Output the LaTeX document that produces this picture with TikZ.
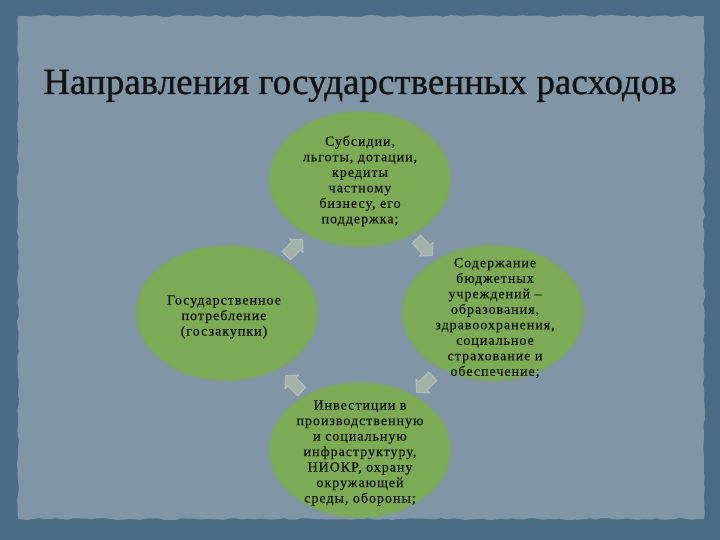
\documentclass[tikz,border=0pt]{standalone}
\usepackage{fontspec}
\setmainfont{Liberation Serif}
\usetikzlibrary{decorations.pathmorphing,shapes.geometric}
\definecolor{outerbg}{RGB}{74,109,133}
\definecolor{innerbg}{RGB}{128,149,166}
\definecolor{leaf}{RGB}{124,170,85}
\definecolor{pale}{RGB}{196,210,170}
\newfontfamily\bodyfont[LetterSpace=7,FakeBold=0.6]{Liberation Serif}
\newfontfamily\titlefont[FakeBold=0.8]{Liberation Serif}
\tikzset{
  bub/.style={ellipse, fill=leaf, minimum width=180pt, minimum height=134pt, inner sep=0pt},
  bubfuzz/.style={fill=leaf, opacity=0.4},
  btext/.style={align=center, font=\bodyfont\fontsize{14}{15.5}\selectfont, text=black!92},
  cycarrow/.style={fill=pale, fill opacity=0.5, draw=white, draw opacity=0.3, line width=0.8pt, line join=round}
}
\begin{document}
\begin{tikzpicture}[x=1pt,y=-1pt]
\useasboundingbox (0,0) rectangle (720,540);
\fill[outerbg] (0,0) rectangle (720,540);
\pgfmathsetseed{7}
\fill[innerbg, decorate, decoration={random steps, segment length=6pt, amplitude=1pt}]
  (18,16) -- (704,16) -- (704,519) -- (18,519) -- cycle;
% title
\node[font=\titlefont\fontsize{37}{40}\selectfont, text=black!92, anchor=base] (title) at (360,94) {Направления государственных расходов};
% bubbles (soft edges)
\foreach \cx/\cy in {360/179, 227/313, 493/313, 360/450}{
  \fill[bubfuzz] (\cx,\cy) ellipse (92pt and 69pt);
}
\node[bub] (top) at (360,179) {};
\node[bub] (left) at (227,313) {};
\node[bub] (right) at (493,313) {};
\node[bub] (bot) at (360,450) {};
% cycle arrows
\foreach \px/\py/\ang/\nm in {294/248/45/a1, 424/247/-45/a2, 425/384/-135/a3, 294/384/135/a4}{
  \coordinate (\nm) at (\px,\py);
  \begin{scope}[shift={(\nm)}, rotate=\ang]
    \path[cycarrow] (-11,-6) -- (3,-6) -- (3,-10) -- (12,0) -- (3,10) -- (3,6) -- (-11,6) -- cycle;
  \end{scope}
}
% texts
\node[btext] (ttop) at (360,181) {Субсидии,\\льготы, дотации,\\кредиты\\частному\\бизнесу, его\\поддержка;};
\node[btext] (tleft) at (224,317) {Государственное\\потребление\\(госзакупки)};
\node[btext] (tright) at (495,318) {Содержание\\бюджетных\\учреждений –\\образования,\\здравоохранения,\\социальное\\страхование и\\обеспечение;};
\node[btext] (tbot) at (360,453) {Инвестиции в\\производственную\\и социальную\\инфраструктуру,\\НИОКР, охрану\\окружающей\\среды, обороны;};
\end{tikzpicture}
\end{document}
